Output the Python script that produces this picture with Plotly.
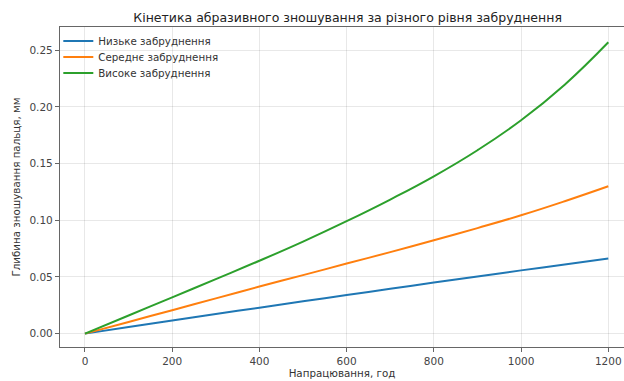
import plotly.graph_objects as go

# Operating time, hours
hours = [0, 100, 200, 300, 400, 500, 600, 700, 800, 900, 1000, 1100, 1200]

# Pin wear depth, mm, for each contamination level
wear_low = [0, 0.0058, 0.0116, 0.0173, 0.0229, 0.0285, 0.0340, 0.0395, 0.0450, 0.0504, 0.0558, 0.0610, 0.0662]
wear_mid = [0, 0.0103, 0.0207, 0.0311, 0.0415, 0.0516, 0.0618, 0.0719, 0.0823, 0.0931, 0.1044, 0.1168, 0.1300]
wear_high = [0, 0.0160, 0.0320, 0.0481, 0.0643, 0.0812, 0.0992, 0.1183, 0.1388, 0.1618, 0.1882, 0.2196, 0.2570]

series_names = ["Низьке забруднення", "Середнє забруднення", "Високе забруднення"]
series_colors = ["#1f77b4", "#ff7f0e", "#2ca02c"]

x_ticks = [0, 200, 400, 600, 800, 1000, 1200]
y_ticks = [0.00, 0.05, 0.10, 0.15, 0.20, 0.25]

# one legend box per series so the rows sit close together
legend_ids = ["legend", "legend2", "legend3"]
legend_rows = [0.956, 0.906, 0.856]

fig = go.Figure()
for name, vals, color, lg in zip(series_names, [wear_low, wear_mid, wear_high], series_colors, legend_ids):
    fig.add_trace(go.Scatter(
        x=hours, y=vals, mode="lines", name=name, legend=lg,
        line=dict(color=color, width=2, shape="spline", smoothing=1.3),
    ))

font_family = "DejaVu Sans"
legend_style = dict(
    x=-0.003, xanchor="left", yanchor="middle",
    bgcolor="rgba(255,255,255,0)", borderwidth=0,
    font=dict(size=10.3, color="#333"), itemwidth=30,
)
layout_legends = {lg: dict(legend_style, y=row) for lg, row in zip(legend_ids, legend_rows)}

fig.update_layout(
    width=624, height=381,
    margin=dict(l=60, r=0, t=27, b=34),
    paper_bgcolor="white", plot_bgcolor="white",
    font=dict(family=font_family, size=10.5, color="#333"),
    title=dict(
        text="Кінетика абразивного зношування за різного рівня забруднення",
        xref="paper", x=0.51, xanchor="center", y=0.953, yanchor="middle",
        font=dict(size=12.5, color="#222"),
    ),
    showlegend=True,
    **layout_legends,
)
fig.update_xaxes(
    range=[-57.3, 1236], tickvals=x_ticks, ticktext=[str(v) for v in x_ticks],
    showgrid=True, gridcolor="rgba(0,0,0,0.09)", gridwidth=1,
    showline=True, linecolor="#666", linewidth=1.2, mirror=True,
    ticks="outside", ticklen=4, tickcolor="#666", zeroline=False,
    tickfont=dict(size=10.5, color="#444"),
    title=dict(text="Напрацювання, год", font=dict(size=10.3, color="#333"), standoff=3),
)
fig.update_yaxes(
    range=[-0.0118, 0.2705], tickvals=y_ticks, ticktext=[f"{v:.2f}" for v in y_ticks],
    showgrid=True, gridcolor="rgba(0,0,0,0.09)", gridwidth=1,
    showline=True, linecolor="#666", linewidth=1.2, mirror=False,
    ticks="outside", ticklen=4, tickcolor="#666", zeroline=False,
    tickfont=dict(size=10.5, color="#444"),
    title=dict(text="Глибина зношування пальця, мм", font=dict(size=10.3, color="#333"), standoff=6),
)

fig.write_html("out.html")
